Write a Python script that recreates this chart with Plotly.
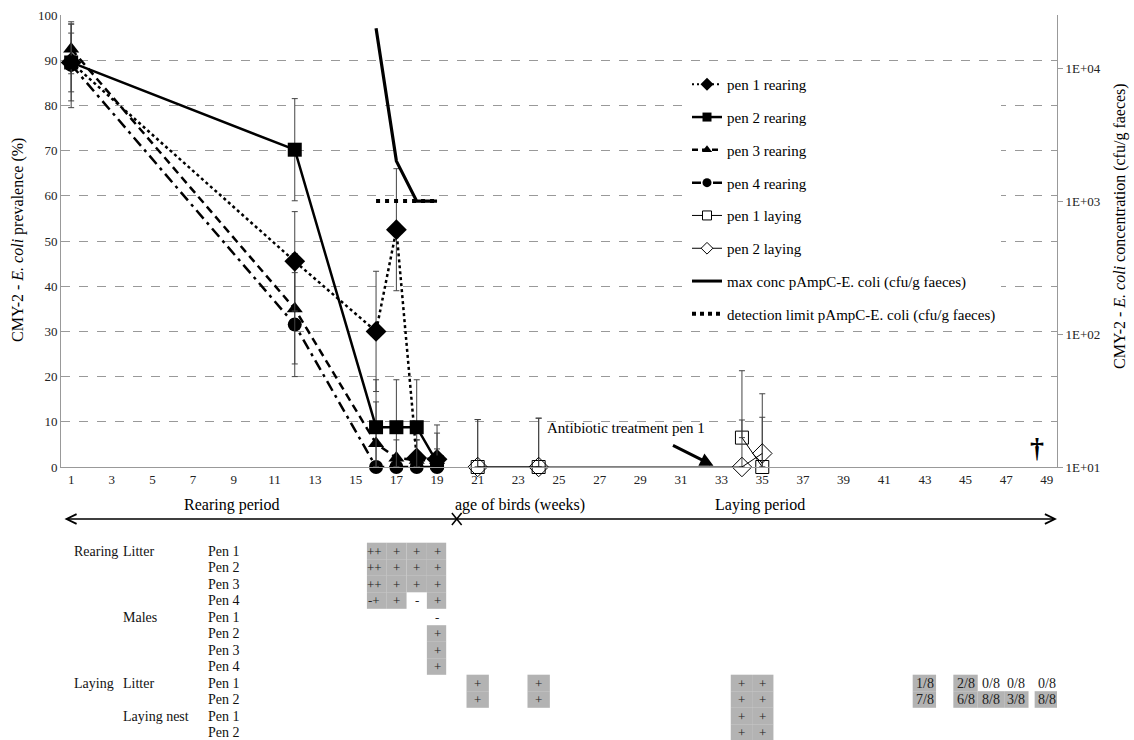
import plotly.graph_objects as go

FONT = "Liberation Serif"

# ---------------- data ----------------
rear_weeks = [1, 12, 16, 17, 18, 19]
pen1_rear = [89.5, 45.5, 30.0, 52.5, 2.0, 1.7]
pen1_rear_err = [6.5, 11.0, 13.3, 13.5, 4.0, 7.6]
pen2_rear = [89.5, 70.2, 8.8, 8.8, 8.8, 1.0]
pen2_rear_err = [8.5, 11.3, 10.5, 10.5, 10.5, 3.0]
pen3_rear = [92.5, 35.0, 5.2, 2.0, 1.5, 1.5]
pen3_rear_err = [5.5, 12.2, 9.2, 4.0, 4.5, 6.0]
pen4_rear = [89.0, 31.5, 0.0, 0.0, 0.0, 0.0]
pen4_rear_err = [9.5, 11.5, 0.0, 0.0, 0.0, 0.0]

lay_weeks = [21, 24, 34, 35]
pen1_lay = [0.0, 0.0, 6.5, 0.0]
pen1_lay_err = [10.5, 10.8, 14.8, 11.0]
pen2_lay = [0.0, 0.0, 0.0, 3.0]
pen2_lay_err = [10.5, 10.8, 10.4, 13.2]

conc_weeks = [16, 17, 18, 19]
max_conc = [20000, 2000, 1000, 1000]
detection_limit = [1000, 1000, 1000, 1000]

x_ticks = [1, 3, 5, 7, 9, 11, 13, 15, 17, 19, 21, 23, 25, 27, 29, 31, 33, 35,
           37, 39, 41, 43, 45, 47, 49]
y2_ticks = [10, 100, 1000, 10000]
y2_ticktext = ["1E+01", "1E+02", "1E+03", "1E+04"]

# table below chart
rear_cols = [15.9, 17, 18, 19]
rear_litter = [["++", "+", "+", "+"],
               ["++", "+", "+", "+"],
               ["++", "+", "+", "+"],
               ["-+", "+", "-", "+"]]
males_col = 19
males = ["-", "+", "+", "+"]
lay_cols = [21, 24, 34, 35, 43, 45, 46.25, 47.5, 49]
lay_litter = [["+", "+", "+", "+", "1/8", "2/8", "0/8", "0/8", "0/8"],
              ["+", "+", "+", "+", "7/8", "6/8", "8/8", "3/8", "8/8"]]
nest_cols = [34, 35]
lay_nest = [["+", "+"], ["+", "+"]]

# ---------------- helpers ----------------
PLOT_TOP, PLOT_BOTTOM, PLOT_LEFT, PLOT_RIGHT = 15, 467, 61, 1057


def py(p):
    return (PLOT_BOTTOM - p) / (PLOT_BOTTOM - PLOT_TOP)


def px(p):
    return (p - PLOT_LEFT) / (PLOT_RIGHT - PLOT_LEFT)


def minus(vals, errs):
    return [min(v, e) for v, e in zip(vals, errs)]


fig = go.Figure()

ERR = dict(color="#444", thickness=1, width=3)

# concentration lines (detection limit below the max-conc line)
fig.add_trace(go.Scatter(
    x=conc_weeks, y=detection_limit, yaxis="y2", mode="lines", showlegend=False,
    line=dict(color="black", width=4, dash="4px,5px"),
))
fig.add_trace(go.Scatter(
    x=conc_weeks, y=max_conc, yaxis="y2", mode="lines", showlegend=False,
    line=dict(color="black", width=3.2),
))

# drawing order: pen 4, pen 3, pen 1, pen 2 (squares on top as in the original)
series = [
    ("pen 4 rearing", rear_weeks, pen4_rear, pen4_rear_err, "circle", 14, "11px,5px,3px,5px", 2.5),
    ("pen 3 rearing", rear_weeks, pen3_rear, pen3_rear_err, "triangle-up", 14, "8px,5px", 2.5),
    ("pen 1 rearing", rear_weeks, pen1_rear, pen1_rear_err, "diamond", 16, "3px,3px", 2.5),
    ("pen 2 rearing", rear_weeks, pen2_rear, pen2_rear_err, "square", 14, "solid", 2.5),
]
for name, xs, ys, es, sym, sz, dash, lw in series:
    fig.add_trace(go.Scatter(
        x=xs, y=ys, mode="lines+markers", showlegend=False, cliponaxis=False,
        line=dict(color="black", width=lw, dash=dash),
        marker=dict(symbol=sym, size=sz, color="black"),
        error_y=dict(type="data", array=es, arrayminus=minus(ys, es), **ERR),
    ))

# laying pens (pen 1 has a break between week 24 and 34)
lay1_x = lay_weeks[:2] + [None] + lay_weeks[2:]
lay1_y = pen1_lay[:2] + [None] + pen1_lay[2:]
lay1_e = pen1_lay_err[:2] + [0] + pen1_lay_err[2:]
fig.add_trace(go.Scatter(
    x=lay1_x, y=lay1_y, mode="lines+markers", showlegend=False, cliponaxis=False,
    line=dict(color="black", width=1),
    marker=dict(symbol="square-open", size=13, color="black", line=dict(color="black", width=1)),
    error_y=dict(type="data", array=lay1_e, arrayminus=[0, 0, 0, 0, 0], **ERR),
))
fig.add_trace(go.Scatter(
    x=lay_weeks, y=pen2_lay, mode="lines+markers", showlegend=False, cliponaxis=False,
    line=dict(color="black", width=1),
    marker=dict(symbol="diamond-open", size=15, color="black", line=dict(color="black", width=1)),
    error_y=dict(type="data", array=pen2_lay_err, arrayminus=minus(pen2_lay, pen2_lay_err), **ERR),
))

# legend-only entries (smaller symbols as in the original legend)
legend_items = [
    ("pen 1 rearing", dict(color="black", width=2, dash="2px,3px"), dict(symbol="diamond", size=10, color="black")),
    ("pen 2 rearing", dict(color="black", width=2.5), dict(symbol="square", size=9, color="black")),
    ("pen 3 rearing", dict(color="black", width=2.5, dash="6px,4px"), dict(symbol="triangle-up", size=9, color="black")),
    ("pen 4 rearing", dict(color="black", width=2.5, dash="9px,5px,2px,5px"), dict(symbol="circle", size=9, color="black")),
    ("pen 1 laying", dict(color="black", width=1), dict(symbol="square", size=9, color="white", line=dict(color="black", width=1))),
    ("pen 2 laying", dict(color="black", width=1), dict(symbol="diamond", size=9, color="white", line=dict(color="black", width=1))),
    ("max conc pAmpC-E. coli (cfu/g faeces)", dict(color="black", width=3), None),
    ("detection limit pAmpC-E. coli (cfu/g faeces)", dict(color="black", width=4, dash="4px,4px"), None),
]
for i, (name, ln, mk) in enumerate(legend_items):
    fig.add_trace(go.Scatter(
        x=[None], y=[None], name=name, legendgroup=f"g{i}",
        mode="lines+markers" if mk else "lines",
        line=ln, marker=mk if mk else None,
    ))

# ---------------- annotations & shapes ----------------
ann = []
shapes = []


def note(**kw):
    kw.setdefault("showarrow", False)
    kw.setdefault("xanchor", "center")
    kw.setdefault("yanchor", "middle")
    ann.append(kw)


# axis titles
note(x=px(18), y=py(240), xref="paper", yref="paper", textangle=-90,
     text="CMY-2 - <i>E. coli</i> prevalence (%)",
     font=dict(family=FONT, size=16, color="black"))
note(x=px(1120), y=py(226), xref="paper", yref="paper", textangle=-90,
     text="CMY-2 - <i>E. coli</i> concentration (cfu/g faeces)",
     font=dict(family=FONT, size=16, color="black"))

note(x=28.3, y=8.6, xref="x", yref="y", text="Antibiotic treatment pen 1",
     font=dict(family=FONT, size=15, color="black"))
ann.append(dict(x=32.6, y=0.3, xref="x", yref="y", text="", showarrow=True,
                ax=-42, ay=-21, arrowhead=2, arrowsize=0.9, arrowwidth=3, arrowcolor="black"))
note(x=48.5, y=4.3, xref="x", yref="y", text="<b>†</b>",
     font=dict(family=FONT, size=28, color="black"))

# period labels and double arrow
for txt, wk in [("Rearing period", 8.9), ("age of birds (weeks)", 23.1), ("Laying period", 34.9)]:
    note(x=wk, y=py(505), xref="x", yref="paper", text=txt,
         font=dict(family=FONT, size=16, color="black"))
ann.append(dict(x=1.0, y=py(519), xref="paper", yref="paper", text="", showarrow=True,
                axref="pixel", ayref="pixel", ax=-994, ay=0, arrowside="end+start",
                arrowhead=5, startarrowhead=5, arrowsize=1.3, startarrowsize=1.3,
                arrowwidth=1.5, arrowcolor="black"))
for (a, b) in [((19.73, 513), (20.21, 525)), ((19.73, 525), (20.21, 513))]:
    shapes.append(dict(type="line", xref="x", yref="paper", x0=a[0], y0=py(a[1]),
                       x1=b[0], y1=py(b[1]), line=dict(color="black", width=1.5)))

# table row labels
row_px = [551, 567.5, 584, 600.5, 617, 633.5, 650, 666.5, 683, 699.5, 716, 732.5]
TF = dict(family=FONT, size=14, color="#111")
for txt, xp, r in [("Rearing", 72, 0), ("Litter", 121, 0), ("Males", 121, 4),
                   ("Laying", 72, 8), ("Litter", 121, 8), ("Laying nest", 121, 10)]:
    note(x=px(xp), y=py(row_px[r]), xref="paper", yref="paper", text=txt,
         xanchor="left", font=TF)
for r in range(12):
    pen = ["Pen 1", "Pen 2", "Pen 3", "Pen 4"][r % 4] if r < 8 else ["Pen 1", "Pen 2"][r % 2]
    note(x=px(206), y=py(row_px[r]), xref="paper", yref="paper", text=pen,
         xanchor="left", font=TF)

GRAY = "#b3b3b3"
HALF = 8.3


def cell(col, row, txt, left, right, size=13):
    if txt not in ("-", "0/8"):
        shapes.append(dict(type="rect", xref="x", yref="paper", x0=left, x1=right,
                           y0=py(row_px[row] + HALF), y1=py(row_px[row] - HALF),
                           fillcolor=GRAY, line=dict(width=0), layer="below"))
    note(x=col, y=py(row_px[row]), xref="x", yref="paper", text=txt,
         font=dict(family=FONT, size=size, color="#222"))


rear_edges = [(15.55, 16.5), (16.5, 17.5), (17.5, 18.5), (18.5, 19.45)]
for r, rowvals in enumerate(rear_litter):
    for c, txt in enumerate(rowvals):
        cell(rear_cols[c], r, txt, *rear_edges[c])
for r, txt in enumerate(males):
    cell(males_col, 4 + r, txt, 18.5, 19.45)

lay_edges = [(20.45, 21.55), (23.45, 24.55), (33.45, 34.5), (34.5, 35.55), (42.4, 43.55),
             (44.4, 45.6), (45.6, 46.9), (46.9, 48.1), (48.4, 49.55)]
for r, rowvals in enumerate(lay_litter):
    for c, txt in enumerate(rowvals):
        cell(lay_cols[c], 8 + r, txt, *lay_edges[c], size=13 if txt == "+" else 14)
for r, rowvals in enumerate(lay_nest):
    for c, txt in enumerate(rowvals):
        cell(nest_cols[c], 10 + r, txt, *lay_edges[2 + c])

fig.update_layout(
    width=1134, height=740,
    margin=dict(l=PLOT_LEFT, r=1134 - PLOT_RIGHT, t=PLOT_TOP, b=740 - PLOT_BOTTOM),
    paper_bgcolor="white", plot_bgcolor="white",
    font=dict(family=FONT, color="#222"),
    annotations=ann, shapes=shapes,
    legend=dict(x=px(687), y=py(68), xanchor="left", yanchor="top", bgcolor="white",
                font=dict(family=FONT, size=15, color="black"), tracegroupgap=10.3,
                borderwidth=0),
    xaxis=dict(range=[0.5, 49.5], tickvals=x_ticks, showgrid=False, zeroline=False,
               showline=True, linecolor="#999", linewidth=1, ticks="",
               tickfont=dict(family=FONT, size=13, color="#222")),
    yaxis=dict(range=[0, 100], dtick=10, showgrid=True, gridcolor="#999", griddash="dash",
               gridwidth=1, zeroline=False, showline=True, linecolor="#999", ticks="",
               tickfont=dict(family=FONT, size=13, color="#222"), automargin=False),
    yaxis2=dict(overlaying="y", side="right", type="log", range=[1, 4.4],
                tickvals=y2_ticks, ticktext=y2_ticktext, showgrid=False, zeroline=False,
                showline=True, linecolor="#999", ticks="outside", ticklen=5, tickcolor="#999",
                tickfont=dict(family=FONT, size=13, color="#222"), automargin=False),
)

fig.write_html("out.html", config={"displayModeBar": False},
               post_script="document.body.style.margin='0';")
